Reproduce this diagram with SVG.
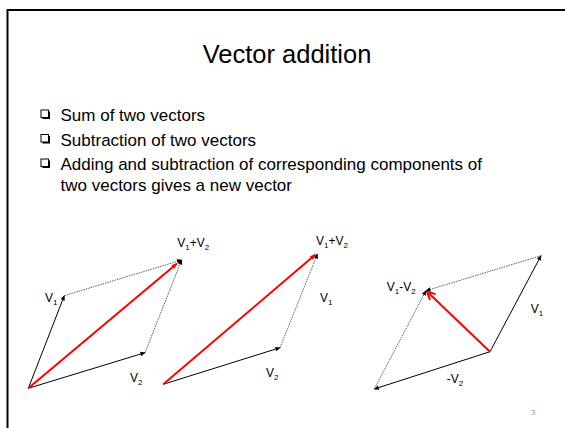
<svg xmlns="http://www.w3.org/2000/svg" width="565" height="428" viewBox="0 0 565 428">
<style>
text{font-family:"Liberation Sans",Arial,sans-serif;fill:#000}
.title{font-size:25.5px}
.bul{font-size:17px}
.lbl{font-size:12px}
.sub{font-size:8px}
.v{stroke:#000;stroke-width:1;fill:none;marker-end:url(#ah)}
.d{stroke:#333;stroke-width:0.8;stroke-dasharray:1.5 1;fill:none;marker-end:url(#ah)}
.r{stroke:#ff0000;stroke-width:2;fill:none}
.box{fill:#fff;stroke:#000;stroke-width:1}
.shadow{fill:#000}
</style>
<defs>
<marker id="ah" viewBox="0 0 10 10" refX="9" refY="5" markerWidth="6" markerHeight="5" markerUnits="userSpaceOnUse" orient="auto"><path d="M0,0.5 L10,5 L0,9.5 z" fill="#000"/></marker>
<marker id="rh" viewBox="0 0 10 10" refX="9" refY="5" markerWidth="8" markerHeight="6" markerUnits="userSpaceOnUse" orient="auto"><path d="M0,1 L10,5 L0,9 z" fill="#ff0000"/></marker>
<marker id="ro" viewBox="0 0 10 10" refX="9" refY="5" markerWidth="10" markerHeight="10" markerUnits="userSpaceOnUse" orient="auto"><path d="M1,1 L9,5 L1,9" fill="none" stroke="#ff0000" stroke-width="2"/></marker>
</defs>
<rect x="0" y="0" width="565" height="428" fill="#fff"/>
<g id="frame"><path d="M7.5,430 V10 H570" fill="none" stroke="#000" stroke-width="2"/></g>
<g id="title"><text class="title" x="287" y="62.5" text-anchor="middle">Vector addition</text></g>
<g id="bullets">
<g id="b1"><rect x="42.5" y="111.5" width="7.5" height="7.5" class="shadow"/><rect x="41" y="110" width="7.5" height="7.5" class="box"/><text class="bul" x="60.5" y="121">Sum of two vectors</text></g>
<g id="b2"><rect x="42.5" y="136" width="7.5" height="7.5" class="shadow"/><rect x="41" y="134.5" width="7.5" height="7.5" class="box"/><text class="bul" x="60.5" y="145.5">Subtraction of two vectors</text></g>
<g id="b3"><rect x="42.5" y="160.5" width="7.5" height="7.5" class="shadow"/><rect x="41" y="159" width="7.5" height="7.5" class="box"/><text class="bul" x="60.5" y="170">Adding and subtraction of corresponding components of</text><text class="bul" x="60.5" y="190.5">two vectors gives a new vector</text></g>
</g>
<g id="connectors">
<line class="v" x1="28.3" y1="388.3" x2="64.3" y2="295.7"/>
<line class="v" x1="28.3" y1="388.3" x2="145" y2="352.7"/>
<line class="d" x1="64.3" y1="295.7" x2="181.7" y2="260"/>
<line class="d" x1="145" y1="352.7" x2="181.7" y2="260"/>
<line class="r" x1="28.3" y1="388.3" x2="177" y2="263.5" marker-end="url(#rh)"/>
<line class="v" x1="163.3" y1="384.3" x2="280" y2="347.7"/>
<line class="d" x1="280" y1="347.7" x2="317.5" y2="254"/>
<line class="r" x1="163.3" y1="384.3" x2="315.5" y2="254.5" marker-end="url(#rh)"/>
<line class="v" x1="490" y1="351.7" x2="541" y2="255.7"/>
<line class="v" x1="490" y1="351.7" x2="374.3" y2="389"/>
<line class="d" x1="541" y1="255.7" x2="426" y2="290.7"/>
<line class="d" x1="374.3" y1="389" x2="426" y2="290.7"/>
<line class="r" x1="490" y1="351.7" x2="427" y2="291.5" marker-end="url(#ro)"/>
</g>
<g id="labels">
<g id="d1-v1"><text class="lbl" x="45" y="301.5">V<tspan class="sub" dy="3">1</tspan></text></g>
<g id="d1-v2"><text class="lbl" x="130" y="381.5">V<tspan class="sub" dy="3">2</tspan></text></g>
<g id="d1-sum"><text class="lbl" x="177.3" y="246.5">V<tspan class="sub" dy="3">1</tspan><tspan dy="-3">+V</tspan><tspan class="sub" dy="3">2</tspan></text></g>
<g id="d2-sum"><text class="lbl" x="316" y="245">V<tspan class="sub" dy="3">1</tspan><tspan dy="-3">+V</tspan><tspan class="sub" dy="3">2</tspan></text></g>
<g id="d2-v1"><text class="lbl" x="320" y="301.5">V<tspan class="sub" dy="3">1</tspan></text></g>
<g id="d2-v2"><text class="lbl" x="266" y="377">V<tspan class="sub" dy="3">2</tspan></text></g>
<g id="d3-diff"><text class="lbl" x="386.7" y="291">V<tspan class="sub" dy="3">1</tspan><tspan dy="-3">-V</tspan><tspan class="sub" dy="3">2</tspan></text></g>
<g id="d3-v1"><text class="lbl" x="530.7" y="312.7">V<tspan class="sub" dy="3">1</tspan></text></g>
<g id="d3-nv2"><text class="lbl" x="446.7" y="383.3">-V<tspan class="sub" dy="3">2</tspan></text></g>
</g>
<g id="page"><text x="531" y="415" style="font-size:8px;fill:#999">3</text></g>
</svg>
